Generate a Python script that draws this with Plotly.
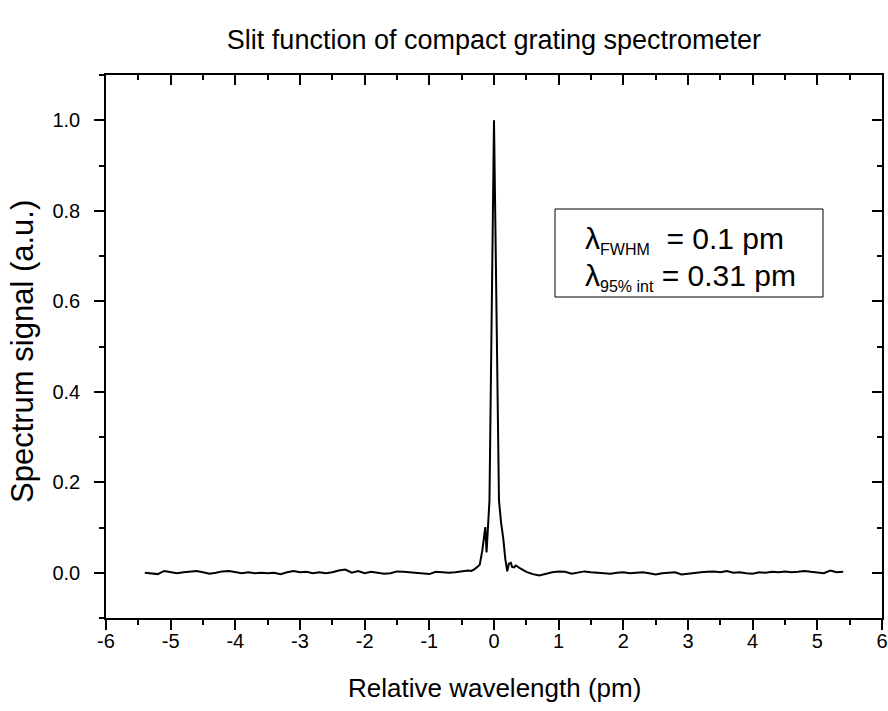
import plotly.graph_objects as go

# ---- data ----
x_left = [-5.4, -5.3, -5.2, -5.1, -5.0, -4.9, -4.8, -4.7, -4.6, -4.5, -4.4, -4.3, -4.2, -4.1, -4.0,
          -3.9, -3.8, -3.7, -3.6, -3.5, -3.4, -3.3, -3.2, -3.1, -3.0, -2.9, -2.8, -2.7, -2.6, -2.5,
          -2.4, -2.3, -2.2, -2.1, -2.0, -1.9, -1.8, -1.7, -1.6, -1.5, -1.4, -1.3, -1.2, -1.1, -1.0,
          -0.9, -0.8, -0.7, -0.6, -0.5, -0.4]
y_left = [0.000, -0.002, -0.003, 0.004, 0.001, -0.001, 0.001, 0.002, 0.004, 0.001, -0.002, 0.000, 0.003, 0.004, 0.002,
          -0.001, 0.001, -0.001, 0.000, -0.001, 0.000, -0.003, 0.001, 0.004, 0.001, 0.002, -0.001, 0.001, -0.001, 0.001,
          0.005, 0.007, 0.000, 0.004, -0.001, 0.002, 0.000, -0.002, -0.001, 0.003, 0.002, 0.001, 0.000, -0.001, -0.003,
          0.002, 0.001, 0.000, 0.001, 0.003, 0.005]

x_peak = [-0.35, -0.3, -0.25, -0.22, -0.18, -0.15, -0.135, -0.115, -0.07, 0.0,
          0.077, 0.11, 0.144, 0.175, 0.205, 0.23, 0.26, 0.28, 0.31, 0.34, 0.37]
y_peak = [0.004, 0.008, 0.014, 0.018, 0.05, 0.09, 0.101, 0.045, 0.16, 1.0,
          0.16, 0.11, 0.075, 0.03, 0.003, 0.02, 0.022, 0.013, 0.012, 0.016, 0.012]

x_right = [0.4, 0.5, 0.6, 0.7, 0.8, 0.9, 1.0, 1.1, 1.2, 1.3, 1.4, 1.5, 1.6, 1.7, 1.8, 1.9, 2.0,
           2.1, 2.2, 2.3, 2.4, 2.5, 2.6, 2.7, 2.8, 2.9, 3.0, 3.1, 3.2, 3.3, 3.4, 3.5, 3.6, 3.7,
           3.8, 3.9, 4.0, 4.1, 4.2, 4.3, 4.4, 4.5, 4.6, 4.7, 4.8, 4.9, 5.0, 5.1, 5.2, 5.3, 5.4]
y_right = [0.010, 0.002, -0.003, -0.006, -0.002, 0.001, 0.003, 0.002, -0.002, 0.000, 0.003, 0.001, 0.000, -0.001, -0.002, 0.000, 0.001,
           -0.001, 0.000, 0.001, -0.001, -0.004, -0.001, 0.000, 0.001, -0.004, -0.002, 0.000, 0.001, 0.002, 0.003, 0.001, 0.004, 0.000,
           0.001, -0.001, -0.002, 0.001, 0.000, 0.002, 0.001, 0.003, 0.001, 0.002, 0.004, 0.002, 0.000, -0.001, 0.005, 0.001, 0.002]

x_ticks = [-6, -5, -4, -3, -2, -1, 0, 1, 2, 3, 4, 5, 6]
x_ticktext = ["-6", "-5", "-4", "-3", "-2", "-1", "0", "1", "2", "3", "4", "5", "6"]
y_ticks = [0.0, 0.2, 0.4, 0.6, 0.8, 1.0]
y_ticktext = ["0.0", "0.2", "0.4", "0.6", "0.8", "1.0"]

title_text = "Slit function of compact grating spectrometer"
x_title = "Relative wavelength (pm)"
y_title = "Spectrum signal (a.u.)"

x_all = x_left + x_peak + x_right
y_all = y_left + y_peak + y_right

FONT = "Liberation Sans, Arial, sans-serif"

# plot area in pixels
L, R, T, B = 106, 882, 75, 618
PW, PH = R - L, B - T


def px_x(p):
    return (p - L) / PW


def px_y(p):
    return (B - p) / PH


fig = go.Figure()
fig.add_trace(go.Scatter(x=x_all, y=y_all, mode="lines",
                         line=dict(color="black", width=2), showlegend=False,
                         hoverinfo="skip"))
# dummy trace to activate top/right axes
fig.add_trace(go.Scatter(x=[None], y=[None], xaxis="x2", yaxis="y2", showlegend=False,
                         hoverinfo="skip"))

common = dict(showgrid=False, zeroline=False, showline=True, linecolor="black", linewidth=1.5,
              tickcolor="black", tickwidth=1.5, automargin=False)

fig.update_layout(
    width=888, height=711,
    margin=dict(l=L, r=888 - R, t=T, b=711 - B, autoexpand=False),
    paper_bgcolor="white", plot_bgcolor="white",
    font=dict(family=FONT, color="black"),
    title=dict(text=title_text, x=494 / 888, xanchor="center", y=1 - 40 / 711, yanchor="middle",
               font=dict(size=27, family=FONT)),
    xaxis=dict(range=[-6, 6], tickvals=x_ticks, ticktext=x_ticktext, ticks="outside", ticklen=10,
               minor=dict(dtick=0.5, tick0=0, ticks="outside", ticklen=5, tickcolor="black", tickwidth=1.5, showgrid=False),
               tickfont=dict(size=20), ticklabelstandoff=-6,
               **common),
    yaxis=dict(range=[-0.1, 1.1], tickvals=y_ticks, ticktext=y_ticktext, ticks="outside", ticklen=10,
               minor=dict(dtick=0.1, tick0=0, ticks="outside", ticklen=5, tickcolor="black", tickwidth=1.5, showgrid=False),
               tickfont=dict(size=20), ticklabelstandoff=10,
               **common),
    xaxis2=dict(range=[-6, 6], overlaying="x", anchor="y", side="top", tickvals=x_ticks, ticks="inside", ticklen=10,
                showticklabels=False,
                minor=dict(dtick=0.5, tick0=0, ticks="inside", ticklen=5, tickcolor="black", tickwidth=1.5, showgrid=False),
                **common),
    yaxis2=dict(range=[-0.1, 1.1], overlaying="y", anchor="x", side="right", tickvals=y_ticks, ticks="inside", ticklen=10,
                showticklabels=False,
                minor=dict(dtick=0.1, tick0=0, ticks="inside", ticklen=5, tickcolor="black", tickwidth=1.5, showgrid=False),
                **common),
)

# axis titles
fig.add_annotation(xref="paper", yref="paper", x=px_x(494), y=px_y(688), xanchor="center", yanchor="middle",
                   showarrow=False, text=x_title, font=dict(size=26, family=FONT))
fig.add_annotation(xref="paper", yref="paper", x=px_x(23), y=px_y(352), xanchor="center", yanchor="middle",
                   showarrow=False, text=y_title, textangle=-90, font=dict(size=31, family=FONT))

# annotation box
fig.add_shape(type="rect", xref="paper", yref="paper",
              x0=px_x(555), x1=px_x(823), y0=px_y(297), y1=px_y(209),
              line=dict(color="black", width=1), fillcolor="rgba(0,0,0,0)")
fig.add_annotation(xref="paper", yref="paper", x=px_x(583), y=px_y(240),
                   xanchor="left", yanchor="middle", showarrow=False, align="left",
                   text="λ<sub><span style='font-size:16px'>FWHM</span></sub>  = 0.1 pm",
                   font=dict(size=30, family=FONT))
fig.add_annotation(xref="paper", yref="paper", x=px_x(583), y=px_y(277),
                   xanchor="left", yanchor="middle", showarrow=False, align="left",
                   text="λ<sub><span style='font-size:16px'>95% int</span></sub> = 0.31 pm",
                   font=dict(size=30, family=FONT))

fig.write_html("out.html")
